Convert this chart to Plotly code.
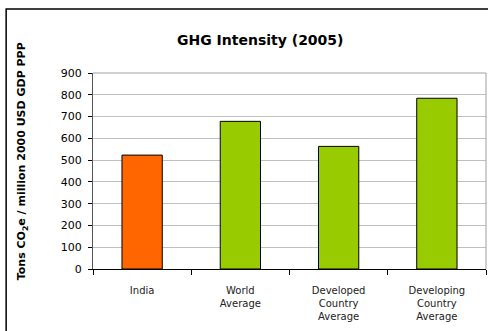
import plotly.graph_objects as go

categories = ["India", "World<br>Average", "Developed<br>Country<br>Average", "Developing<br>Country<br>Average"]
intensity = [523, 678, 563, 784]
bar_colors = ["#ff6600", "#99cc00", "#99cc00", "#99cc00"]

fig = go.Figure(go.Bar(
    x=categories,
    y=intensity,
    marker=dict(color=bar_colors, line=dict(color="#000000", width=1)),
    width=0.41,
))

font_family = "DejaVu Sans, Verdana, sans-serif"

fig.update_layout(
    width=488, height=331,
    margin=dict(l=93, r=2, t=73, b=62),
    paper_bgcolor="white", plot_bgcolor="white",
    showlegend=False,
    font=dict(family=font_family, size=11, color="#000000"),
    xaxis=dict(
        tickson="boundaries", ticks="outside", ticklen=5, tickcolor="#000000",
        showline=True, linecolor="#000000", linewidth=1,
        showgrid=False, tickfont=dict(size=10, color="#222222"),
        tickangle=0, ticklabelstandoff=12,
    ),
    yaxis=dict(
        range=[0, 900], dtick=100, ticks="outside", ticklen=4, tickcolor="#000000",
        showline=True, linecolor="#555555", linewidth=1,
        showgrid=True, gridcolor="#c0c0c0", gridwidth=1,
        tickfont=dict(size=11), zeroline=False, ticklabelstandoff=4,
    ),
    shapes=[
        # outer chart frame
        dict(type="rect", xref="paper", yref="paper", x0=-0.221, x1=1.06, y0=-0.45, y1=1.327,
             line=dict(color="#000000", width=1.5), fillcolor="rgba(0,0,0,0)", layer="below"),
        # plot area frame (top and right edges)
        dict(type="line", xref="paper", yref="paper", x0=0, x1=1, y0=1, y1=1,
             line=dict(color="#a0a0a0", width=1)),
        dict(type="line", xref="paper", yref="paper", x0=1, x1=1, y0=0, y1=1,
             line=dict(color="#a0a0a0", width=1)),
    ],
    annotations=[
        dict(text="<b>GHG Intensity (2005)</b>", xref="paper", yref="paper",
             x=0.425, y=1.17, showarrow=False, font=dict(size=14), xanchor="center", yanchor="middle"),
        dict(text="<b>Tons CO<sub>2</sub>e / million 2000 USD GDP PPP</b>", xref="paper", yref="paper",
             x=-0.18, y=0.551, textangle=-90, showarrow=False, font=dict(size=11),
             xanchor="center", yanchor="middle"),
    ],
)

fig.write_html("out.html")
